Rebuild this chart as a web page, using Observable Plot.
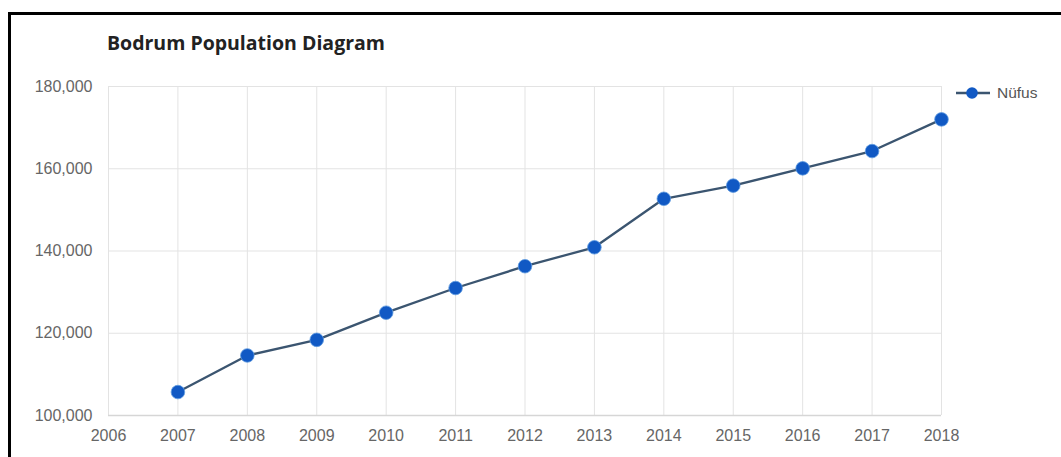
<!DOCTYPE html>
<html>
<head>
<meta charset="utf-8">
<script src="https://cdn.jsdelivr.net/npm/d3@7"></script>
<script src="https://cdn.jsdelivr.net/npm/@observablehq/plot@0.6"></script>
<style>
  html, body { margin: 0; padding: 0; background: #fff; }
  #wrap { position: relative; width: 1061px; height: 457px; overflow: hidden; background: #fff; }
  #frame { position: absolute; left: 8px; top: 12px; width: 1100px; height: 500px;
           border-left: 3px solid #000; border-top: 3px solid #000; box-sizing: border-box; }
  #title { position: absolute; left: 107px; top: 33px; font-family: "Open Sans", sans-serif;
           font-weight: 700; font-size: 19.5px; color: #222; white-space: nowrap; line-height: 1; }
  #chart { position: absolute; left: 0; top: 0; }
  #legend { position: absolute; left: 956px; top: 84px; display: flex; align-items: center;
            font-family: "Liberation Sans", Arial, sans-serif; font-size: 15.5px; color: #555; }
  #legend span { margin-left: 7px; }
</style>
</head>
<body>
<div id="wrap">
  <div id="frame"></div>
  <div id="title">Bodrum Population Diagram</div>
  <div id="chart"></div>
  <div id="legend"></div>
</div>
<script>
const years = [2007, 2008, 2009, 2010, 2011, 2012, 2013, 2014, 2015, 2016, 2017, 2018];
const population = [105700, 114600, 118400, 125000, 131000, 136300, 140900, 152700, 155900, 160100, 164300, 172000];
const xTicks = [2006, 2007, 2008, 2009, 2010, 2011, 2012, 2013, 2014, 2015, 2016, 2017, 2018];
const yTicks = [100000, 120000, 140000, 160000, 180000];
const seriesName = "Nüfus";

const data = years.map((y, i) => ({year: y, value: population[i]}));
const lineColor = "#3b5570";
const dotColor = "#1159c4";
const gridColor = "#e3e3e3";

const chart = Plot.plot({
  width: 1061,
  height: 457,
  marginLeft: 108,
  marginRight: 120,
  marginTop: 86,
  marginBottom: 42,
  style: {fontFamily: "'Liberation Sans', Arial, sans-serif", fontSize: "16px", color: "#666", background: "transparent"},
  x: {domain: [2006, 2018], ticks: xTicks, tickFormat: d => String(d), tickSize: 0, tickPadding: 14, label: null},
  y: {domain: [100000, 180000], ticks: yTicks, tickFormat: d3.format(","), tickSize: 0, tickPadding: 16, label: null},
  marks: [
    Plot.gridX(xTicks, {stroke: gridColor, strokeOpacity: 1, strokeWidth: 1}),
    Plot.gridY(yTicks, {stroke: gridColor, strokeOpacity: 1, strokeWidth: 1}),
    Plot.ruleY([100000], {stroke: "#d6d6d6", strokeWidth: 1.5}),
    Plot.line(data, {x: "year", y: "value", stroke: lineColor, strokeWidth: 2.3}),
    Plot.dot(data, {x: "year", y: "value", r: 6.8, fill: dotColor, stroke: "#5e9be0", strokeWidth: 0.8})
  ]
});
document.getElementById("chart").appendChild(chart);

// legend
const lg = document.getElementById("legend");
const ns = "http://www.w3.org/2000/svg";
const sv = document.createElementNS(ns, "svg");
sv.setAttribute("width", "34"); sv.setAttribute("height", "18");
const ln = document.createElementNS(ns, "line");
ln.setAttribute("x1", "0"); ln.setAttribute("x2", "34"); ln.setAttribute("y1", "9"); ln.setAttribute("y2", "9");
ln.setAttribute("stroke", lineColor); ln.setAttribute("stroke-width", "2.3");
const c = document.createElementNS(ns, "circle");
c.setAttribute("cx", "16"); c.setAttribute("cy", "9"); c.setAttribute("r", "5.8"); c.setAttribute("fill", dotColor);
sv.appendChild(ln); sv.appendChild(c);
lg.appendChild(sv);
const t = document.createElement("span"); t.textContent = seriesName; lg.appendChild(t);
</script>
</body>
</html>
